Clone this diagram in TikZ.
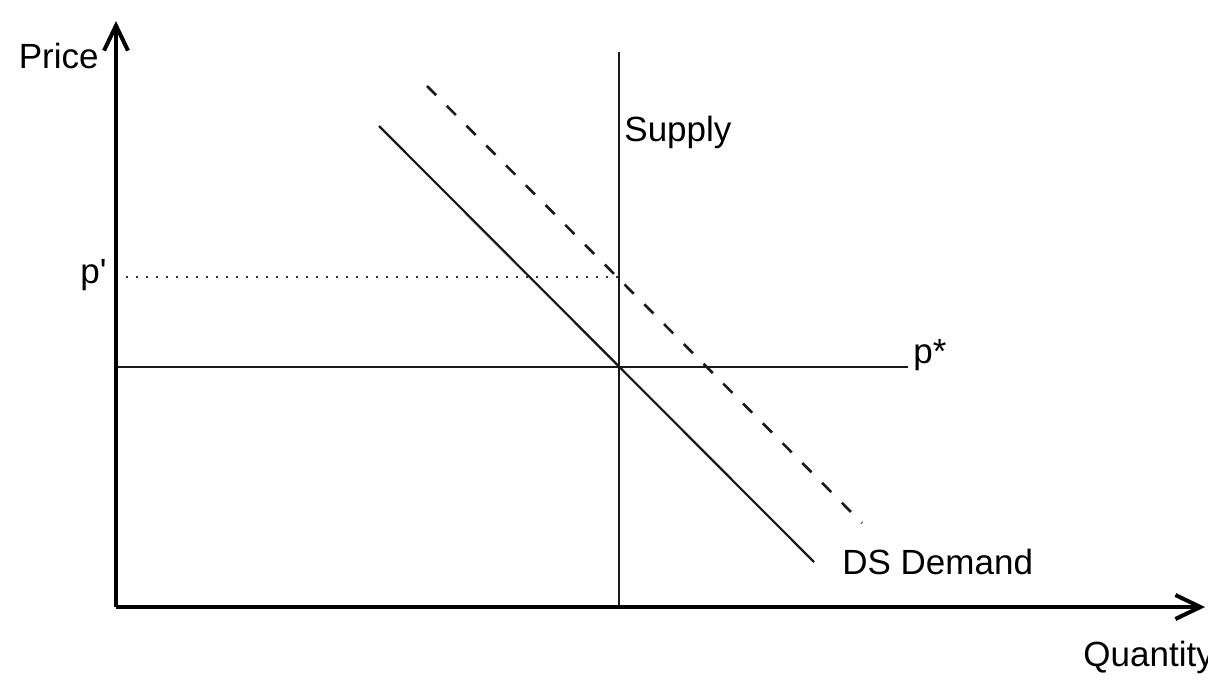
\documentclass[tikz,border=0pt]{standalone}
\usepackage{fontspec}
\setmainfont{Liberation Sans}
\usetikzlibrary{arrows.meta,positioning}
\tikzset{
  axis/.style={-{Straight Barb[length=12.5pt,width=12pt]}, line width=2pt, draw=black},
  curve/.style={line width=1.1pt, draw=black!90},
  shifted/.style={curve, line width=1.3pt, dash pattern=on 6.5pt off 7.5pt},
  guide/.style={line width=1pt, draw=black!80, dash pattern=on 0.8pt off 4.2pt},
  lbl/.style={font=\fontsize{17.5}{21}\selectfont, inner sep=0pt, anchor=base west}
}
\begin{document}
\begin{tikzpicture}[x=0.5pt, y=-0.5pt]
  \useasboundingbox (0,0) rectangle (1208,680);
  % axes
  \coordinate (o) at (116,607);
  \coordinate (ytip) at (116,21);
  \coordinate (xtip) at (1205,607);
  % supply and price levels
  \coordinate (stop) at (619,52);
  \coordinate (sbot) at (619,607);
  \coordinate (pl) at (116,367);
  \coordinate (pr) at (908,367);
  \coordinate (ppl) at (116,277);
  \coordinate (pps) at (619,277);
  % demand curves
  \coordinate (d1) at (379,126);
  \coordinate (d2) at (814,562);
  \coordinate (e1) at (427,86);
  \coordinate (e2) at (862,523);

  \node[lbl, anchor=base east] (price) at (99,68) {Price};
  \node[lbl] (quantity) at (1083,666) {Quantity};
  \node[lbl] (supply) at (624,141) {Supply};
  \node[lbl] (pstar) at (913,363) {p*};
  \node[lbl] (pprime) at (80,283) {p\textquotesingle};
  \node[lbl] (demand) at (842,574) {DS Demand};

  \draw[curve] (sbot) -- (stop);
  \draw[curve] (pl) -- (pr);
  \draw[guide] (ppl) -- (pps);
  \draw[curve] (d1) -- (d2);
  \draw[shifted] (e1) -- (e2);
  \draw[axis] (o) -- (ytip);
  \draw[axis] (o) -- (xtip);
\end{tikzpicture}
\end{document}
